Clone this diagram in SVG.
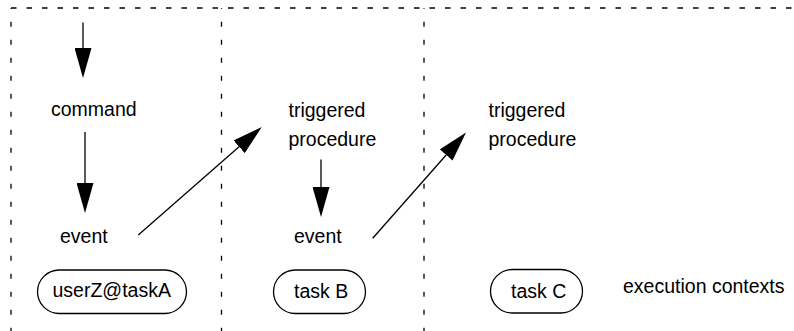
<svg xmlns="http://www.w3.org/2000/svg" width="794" height="331" viewBox="0 0 794 331">
  <style>
    .lbl { font-family: "Liberation Sans", Arial, Helvetica, sans-serif; font-size: 19.5px; fill: #000; }
    .ctx { fill: #fff; stroke: #000; stroke-width: 1.3; }
    .lane { fill: none; stroke: #000; stroke-width: 1.3; }
    .lane-h { stroke-dasharray: 5.5 10; }
    .lane-v { stroke-dasharray: 5 13; stroke-dashoffset: 4.3; }
    .flow { fill: none; stroke: #000; stroke-width: 1.3; marker-end: url(#head); }
  </style>
  <defs>
    <marker id="head" viewBox="0 0 30 17" refX="20" refY="8.5" markerWidth="30" markerHeight="17" markerUnits="userSpaceOnUse" orient="auto">
      <path d="M0,0 L30,8.5 L0,17 z" fill="#000"/>
    </marker>
  </defs>

  <rect width="794" height="331" fill="#fff"/>

  <!-- execution lanes -->
  <g id="lanes">
    <line class="lane lane-h" x1="11" y1="8" x2="794" y2="8"/>
    <line class="lane lane-v" x1="11" y1="8" x2="11" y2="331"/>
    <line class="lane lane-v" x1="221.5" y1="8" x2="221.5" y2="331"/>
    <line class="lane lane-v" x1="424" y1="8" x2="424" y2="331"/>
  </g>

  <!-- flow arrows -->
  <g id="connectors">
    <line class="flow" x1="83" y1="22.5" x2="83" y2="68"/>
    <line class="flow" x1="85" y1="132" x2="85" y2="203"/>
    <line class="flow" x1="321" y1="159.5" x2="321" y2="207"/>
    <line class="flow" x1="138.3" y1="235" x2="254.2" y2="133.6"/>
    <line class="flow" x1="372.7" y1="238.3" x2="459.4" y2="140"/>
  </g>

  <g id="command">
    <text class="lbl" x="51" y="116">command</text>
  </g>
  <g id="eventA">
    <text class="lbl" x="60" y="243.3">event</text>
  </g>
  <g id="triggeredB">
    <text class="lbl" x="288.5" y="116.7">triggered</text>
    <text class="lbl" x="288.5" y="146">procedure</text>
  </g>
  <g id="eventB">
    <text class="lbl" x="294" y="243.3">event</text>
  </g>
  <g id="triggeredC">
    <text class="lbl" x="488.5" y="116.7">triggered</text>
    <text class="lbl" x="488.5" y="146">procedure</text>
  </g>

  <g id="contextA">
    <rect class="ctx" x="37.5" y="270" width="149" height="43.5" rx="21.75"/>
    <text class="lbl" x="52.5" y="297">userZ@taskA</text>
  </g>
  <g id="contextB">
    <rect class="ctx" x="273.5" y="270" width="92" height="43.5" rx="21.75"/>
    <text class="lbl" x="294" y="297.5">task B</text>
  </g>
  <g id="contextC">
    <rect class="ctx" x="490.5" y="269.5" width="92" height="43.5" rx="21.75"/>
    <text class="lbl" x="511" y="297.5">task C</text>
  </g>
  <g id="legend">
    <text class="lbl" x="623" y="293.3">execution contexts</text>
  </g>
</svg>
